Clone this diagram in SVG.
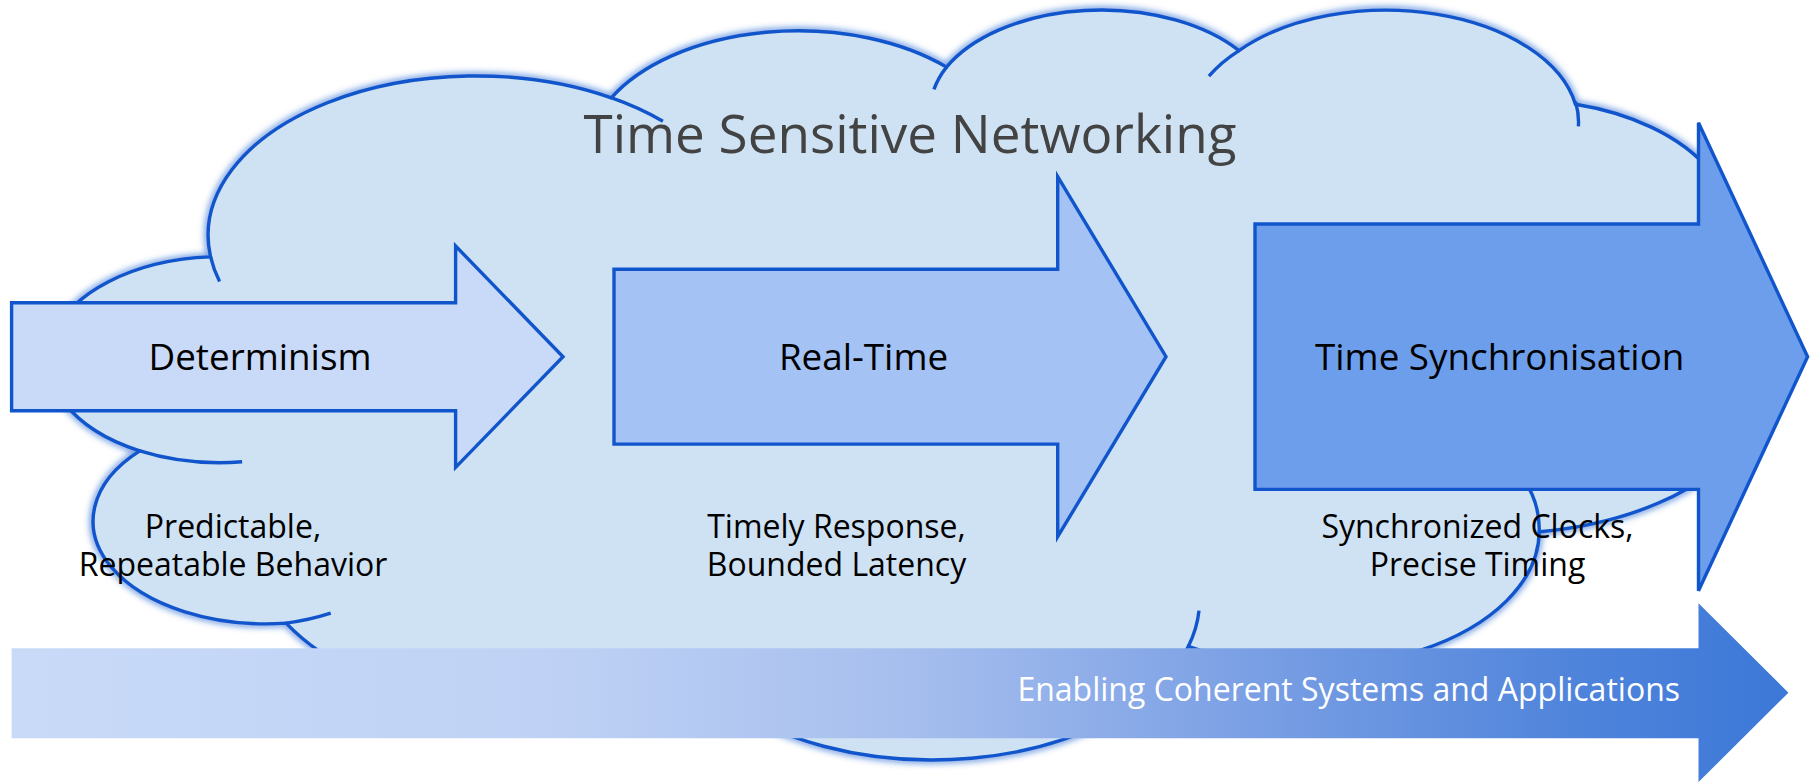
<svg xmlns="http://www.w3.org/2000/svg" width="1818" height="782" viewBox="0 0 1818 782">
  <defs>
    <style>
      .txt { font-family: "Open Sans", "Noto Sans", "DejaVu Sans", sans-serif; }
      .label { font-size: 36.8px; fill: #000000; text-anchor: middle; }
      .note { font-size: 32px; fill: #000000; text-anchor: middle; }
      .title { font-size: 53px; fill: #434343; text-anchor: middle; }
      .band-text { font-size: 32px; fill: #ffffff; text-anchor: end; }
      .edge { stroke: #1155cc; stroke-width: 3.4; stroke-linejoin: miter; }
    </style>
    <filter id="glow" x="-5%" y="-5%" width="110%" height="110%">
      <feGaussianBlur stdDeviation="3"/>
    </filter>
    <linearGradient id="bandFill" x1="11.6" y1="0" x2="1788.4" y2="0" gradientUnits="userSpaceOnUse">
      <stop offset="0" stop-color="#c9daf8"/>
      <stop offset="0.3" stop-color="#bfd2f5"/>
      <stop offset="0.5" stop-color="#a7bfee"/>
      <stop offset="0.7" stop-color="#7a9fe4"/>
      <stop offset="0.88" stop-color="#4f84db"/>
      <stop offset="1" stop-color="#3c78d8"/>
    </linearGradient>
  </defs>

  <rect width="1818" height="782" fill="#ffffff"/>

  <!-- Cloud background -->
  <g id="cloud">
    <path id="cloud-outline" filter="url(#glow)" fill="none" stroke="#1155cc" stroke-width="7" stroke-opacity="0.6"
          d="M 210.6 256.9 A 267.8 159.5 0 0 1 611.3 97.8 A 211.5 126.1 0 0 1 946.5 67.1 A 173.1 103.2 0 0 1 1239.0 50.6 A 192.6 114.4 0 0 1 1575.4 104.3 A 211.5 126.2 0 0 1 1714.2 275.9 A 268.6 160.0 0 0 1 1539.2 531.7 A 229.4 136.5 0 0 1 1188.3 646.4 A 267.7 159.9 0 0 1 709.5 688.9 A 306.1 183.0 0 0 1 286.1 623.1 A 172.9 102.7 0 0 1 139.8 450.9 A 172.3 103.2 0 0 1 210.6 256.9 Z"/>
    <path class="edge" fill="#cfe2f3"
          d="M 210.6 256.9 A 267.8 159.5 0 0 1 611.3 97.8 A 211.5 126.1 0 0 1 946.5 67.1 A 173.1 103.2 0 0 1 1239.0 50.6 A 192.6 114.4 0 0 1 1575.4 104.3 A 211.5 126.2 0 0 1 1714.2 275.9 A 268.6 160.0 0 0 1 1539.2 531.7 A 229.4 136.5 0 0 1 1188.3 646.4 A 267.7 159.9 0 0 1 709.5 688.9 A 306.1 183.0 0 0 1 286.1 623.1 A 172.9 102.7 0 0 1 139.8 450.9 A 172.3 103.2 0 0 1 210.6 256.9 Z"/>
    <path class="edge" fill="none"
          d="M 242.1 461.8 A 172.3 103.2 0 0 1 139.8 450.9
             M 330.7 613.1 A 172.9 102.7 0 0 1 286.1 623.1
             M 709.4 685.9 A 267.7 159.9 0 0 1 683.0 658.8
             M 1199.0 610.6 A 267.7 159.9 0 0 1 1188.3 646.4
             M 1409.2 405.8 A 229.4 136.5 0 0 1 1539.2 531.7
             M 1713.3 274.0 A 211.5 126.2 0 0 1 1656.8 322.3
             M 1575.5 101.7 A 192.6 114.4 0 0 1 1578.4 126.3
             M 1208.9 76.1 A 192.6 114.4 0 0 1 1239.0 50.6
             M 933.9 89.4 A 173.1 103.2 0 0 1 946.5 67.1
             M 611.1 97.6 A 267.8 159.5 0 0 1 662.9 121.2
             M 219.6 281.5 A 267.8 159.5 0 0 1 210.6 256.9"/>
    <text class="txt title" x="910" y="153">Time Sensitive Networking</text>
  </g>

  <!-- Stage arrows -->
  <g id="determinism">
    <path class="edge" fill="#c9daf8" d="M 11.6 302.7 H 455.6 V 246 L 563 356.7 L 455.6 467.4 V 410.7 H 11.6 Z"/>
    <text class="txt label" x="260" y="369.5">Determinism</text>
  </g>
  <g id="real-time">
    <path class="edge" fill="#a4c2f4" d="M 614 269.3 H 1057.7 V 176.7 L 1166 356.7 L 1057.7 536.7 V 444.1 H 614 Z"/>
    <text class="txt label" x="863.5" y="369.5">Real-Time</text>
  </g>
  <g id="time-sync">
    <path class="edge" fill="#6d9eeb" d="M 1255 224 H 1698.5 V 122.7 L 1807.6 356.7 L 1698.5 590.7 V 489.4 H 1255 Z"/>
    <text class="txt label" x="1499.7" y="369.5">Time Synchronisation</text>
  </g>

  <!-- Descriptions under each stage -->
  <g id="desc-determinism">
    <text class="txt note" x="233" y="538.3"><tspan x="233">Predictable,</tspan><tspan x="233" dy="37.2">Repeatable Behavior</tspan></text>
  </g>
  <g id="desc-real-time">
    <text class="txt note" x="836.5" y="538.3"><tspan x="836.5">Timely Response,</tspan><tspan x="836.5" dy="37.2">Bounded Latency</tspan></text>
  </g>
  <g id="desc-time-sync">
    <text class="txt note" x="1477.5" y="538.3"><tspan x="1477.5">Synchronized Clocks,</tspan><tspan x="1477.5" dy="37.2">Precise Timing</tspan></text>
  </g>

  <!-- Bottom band arrow -->
  <g id="band">
    <path fill="url(#bandFill)" d="M 11.6 648.3 H 1698.5 V 603.3 L 1788.4 692.7 L 1698.5 782.1 V 738.3 H 11.6 Z"/>
    <text class="txt band-text" x="1680" y="700.7">Enabling Coherent Systems and Applications</text>
  </g>
</svg>
